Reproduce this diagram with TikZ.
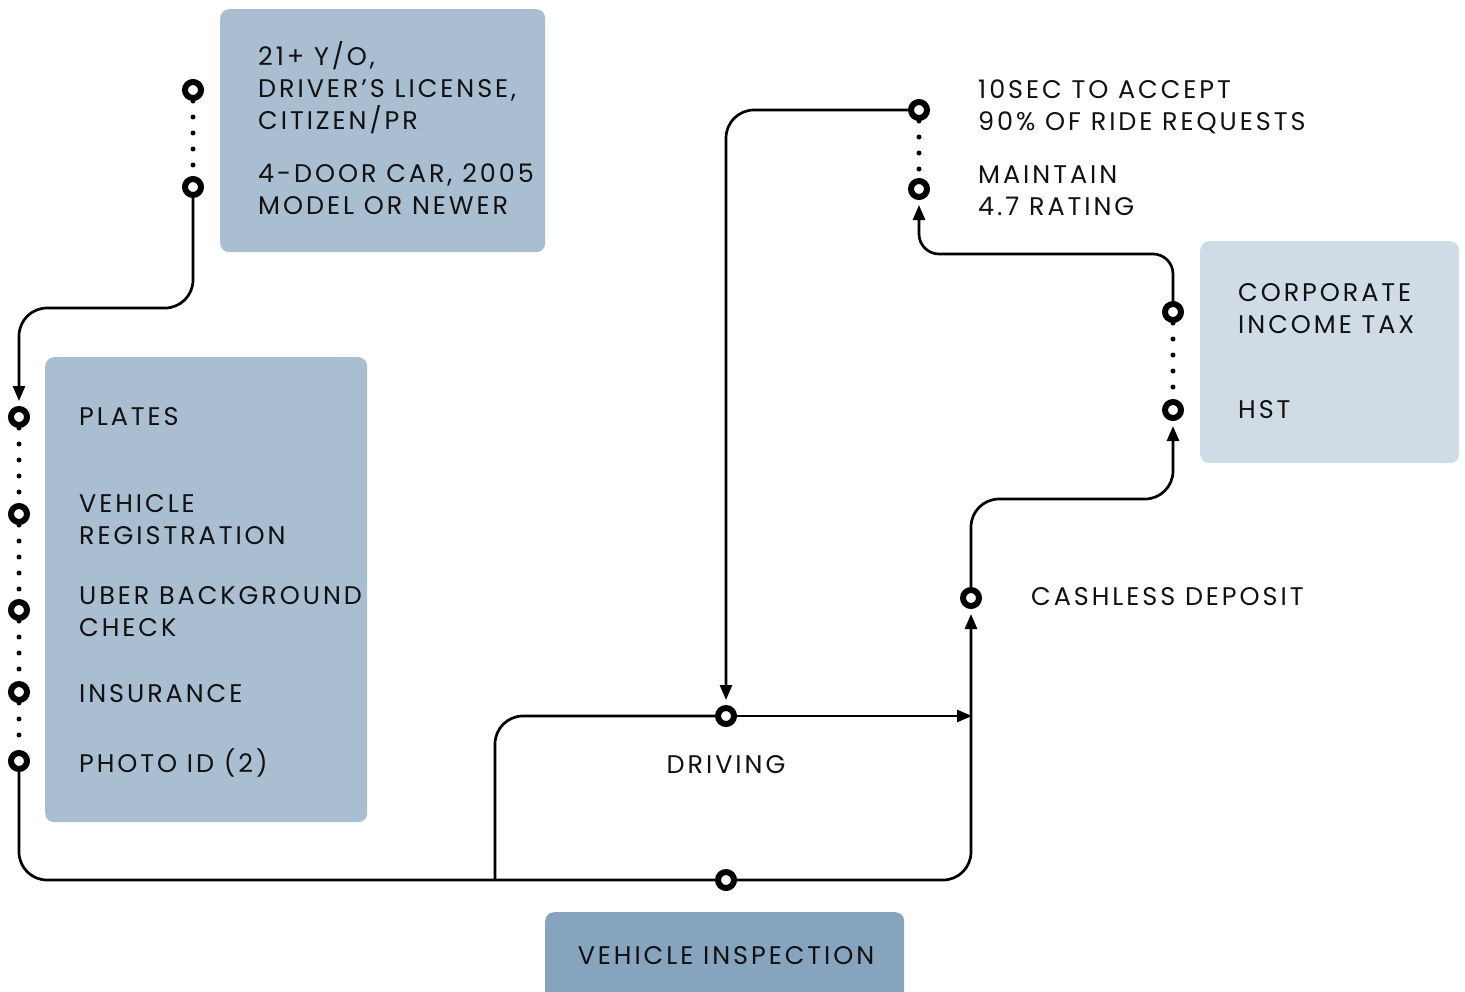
\documentclass[tikz,border=0pt]{standalone}
\usepackage{fontspec}
\setmainfont{Poppins}[LetterSpace=11.5]
\usetikzlibrary{arrows.meta}
\definecolor{boxA}{HTML}{AABED2}
\definecolor{boxB}{HTML}{CFDCE6}
\definecolor{boxC}{HTML}{87A4BF}
\definecolor{ink}{HTML}{111111}
\begin{document}
\begin{tikzpicture}[x=1pt,y=-1pt,
  port/.style={circle,draw=black,line width=6pt,fill=white,minimum size=16pt,inner sep=0pt},
  panel/.style={rounded corners=9pt,inner sep=0pt,anchor=north west},
  lbl/.style={anchor=west,align=left,inner sep=0pt,text=ink,font=\fontsize{25.5}{32}\selectfont},
  conn/.style={line width=2.7pt,rounded corners=28pt},
  tip/.style={-{Triangle[length=15pt,width=12pt]},shorten >=5pt},
  dots/.style={line width=5pt,line cap=round,dash pattern=on 0pt off 16pt}
]
\useasboundingbox (0,0) rectangle (1465,991);
% panels
\node[panel,fill=boxA,minimum width=325pt,minimum height=243pt] (reqbox) at (220,9) {};
\node[panel,fill=boxA,minimum width=322pt,minimum height=465pt] (docbox) at (45,357) {};
\node[panel,fill=boxB,minimum width=259pt,minimum height=222pt] (taxbox) at (1200,241) {};
\begin{scope}
\clip (0,0) rectangle (1465,991);
\node[panel,fill=boxC,minimum width=359pt,minimum height=100pt] (inspbox) at (545,912) {};
\end{scope}
% labels
\node[lbl] (tage) at (258,88) {21+ Y/O,\\DRIVER’S LICENSE,\\CITIZEN/PR};
\node[lbl] (tcar) at (258,189) {4-DOOR CAR, 2005\\MODEL OR NEWER};
\node[lbl] (tpla) at (79,417) {PLATES};
\node[lbl] (treg) at (79,520) {VEHICLE\\REGISTRATION};
\node[lbl] (tbgc) at (79,612) {UBER BACKGROUND\\CHECK};
\node[lbl] (tins) at (79,694) {INSURANCE};
\node[lbl] (tpid) at (79,763) {PHOTO ID (2)};
\node[lbl] (tacc) at (978,107) {10SEC TO ACCEPT\\90\% OF RIDE REQUESTS};
\node[lbl] (trat) at (978,191) {MAINTAIN\\4.7 RATING};
\node[lbl] (tcit) at (1238,309) {CORPORATE\\INCOME TAX};
\node[lbl] (thst) at (1238,410) {HST};
\node[lbl] (tcash) at (1031,597) {CASHLESS DEPOSIT};
\node[lbl,anchor=center] (tdrv) at (726,765) {DRIVING};
\node[lbl,anchor=center] (tvi) at (726,956) {VEHICLE INSPECTION};
% ports
\node[port] (c1a) at (193,90) {};
\node[port] (c1b) at (193,187) {};
\node[port] (p1) at (19,417) {};
\node[port] (p2) at (19,514) {};
\node[port] (p3) at (19,610) {};
\node[port] (p4) at (19,692) {};
\node[port] (p5) at (19,761) {};
\node[port] (vi) at (726,880) {};
\node[port] (drv) at (726,716) {};
\node[port] (cash) at (971,598) {};
\node[port] (acc) at (919,110) {};
\node[port] (rat) at (919,189) {};
\node[port] (cit) at (1173,312) {};
\node[port] (hst) at (1173,410) {};
\coordinate (split) at (495,880);
\coordinate (join) at (972,716);
% dotted links
\draw[dots] (c1a) -- (c1b);
\draw[dots] (p1) -- (p2);
\draw[dots] (p2) -- (p3);
\draw[dots] (p3) -- (p4);
\draw[dots] (p4) -- (p5);
\draw[dots] (acc) -- (rat);
\draw[dots] (cit) -- (hst);
% connectors
\draw[conn,tip] (c1b.south) -- ++(0,110) -| (p1);
\draw[conn] (p5) |- (vi);
\draw[conn,tip] (vi) -| (cash);
\draw[conn] (split) |- (drv);
\draw[conn,-{Triangle[length=15pt,width=12pt]}] (drv) -- (join);
\draw[conn,tip] (acc) -| (drv);
\draw[conn,rounded corners=20pt,tip] (cit.north) -- ++(0,-47) -| (rat);
\draw[conn,tip] (cash.north) -- ++(0,-88) -| (hst);
\end{tikzpicture}
\end{document}
